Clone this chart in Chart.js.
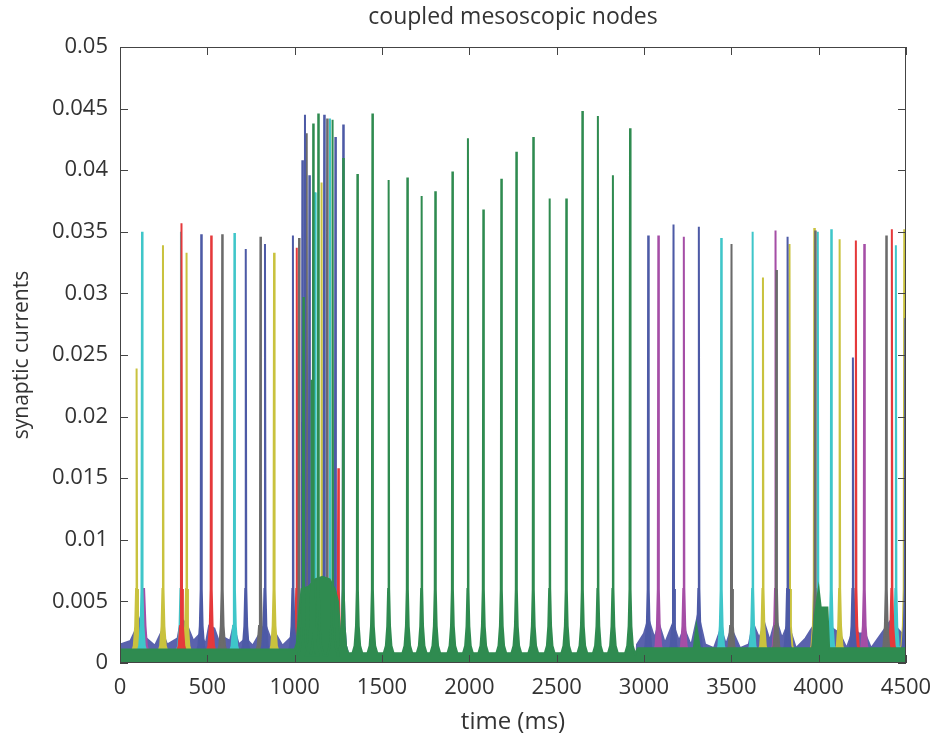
<!DOCTYPE html>
<html lang="en">
<head>
<meta charset="utf-8">
<title>coupled mesoscopic nodes</title>
<style>
  html, body { margin: 0; padding: 0; background: #fff; }
  #wrap { width: 932px; height: 737px; }
</style>
</head>
<body>
<div id="wrap"><canvas id="chart"></canvas></div>
<script src="https://cdn.jsdelivr.net/npm/chart.js@4/dist/chart.umd.min.js"></script>
<script>
// spike times (ms) and peak currents, one pair per node colour
var blueT = [465, 720, 830, 990, 1044, 1059, 1084, 1169, 1233, 1278, 3024, 3169, 3314, 3822, 4196, 4496];
var blueP = [0.0348, 0.0336, 0.0340, 0.0347, 0.0408, 0.0445, 0.0396, 0.0445, 0.0427, 0.0437, 0.0347, 0.0356, 0.0354, 0.0346, 0.0248, 0.0280];

var greyT = [585, 804, 1025, 1069, 1186, 3501, 3758, 3980, 4387];
var greyP = [0.0348, 0.0346, 0.0345, 0.0430, 0.0442, 0.0340, 0.0319, 0.0351, 0.0347];

var cyanT = [126, 349, 655, 1117, 1202, 3442, 3622, 3995, 4072, 4442];
var cyanP = [0.0350, 0.0350, 0.0349, 0.0382, 0.0442, 0.0345, 0.0350, 0.0350, 0.0352, 0.0339];

var redT = [352, 522, 1012, 1059, 1250, 4213, 4419];
var redP = [0.0357, 0.0347, 0.0337, 0.0390, 0.0158, 0.0343, 0.0352];

var yellowT = [95, 246, 381, 882, 1154, 3681, 3833, 3975, 4120, 4490];
var yellowP = [0.0239, 0.0339, 0.0333, 0.0333, 0.0390, 0.0313, 0.0340, 0.0353, 0.0344, 0.0352];

var magentaT = [138, 3082, 3228, 3753, 4261];
var magentaP = [0.0060, 0.0347, 0.0346, 0.0351, 0.0340];

var greenT = [1050, 1097, 1106, 1135, 1217, 1278, 1359, 1445, 1538, 1645, 1727, 1805, 1903, 1992,
              2080, 2183, 2269, 2366, 2460, 2555, 2647, 2736, 2822, 2920];
var greenP = [0.0297, 0.0230, 0.0438, 0.0446, 0.0441, 0.0410, 0.0397, 0.0446, 0.0392, 0.0394, 0.0379, 0.0383, 0.0399, 0.0426,
              0.0368, 0.0393, 0.0415, 0.0427, 0.0377, 0.0377, 0.0448, 0.0444, 0.0396, 0.0434];

// green floor of the traces (incl. the dense burst 1000-1270 ms)
var floorT = [0, 1000, 1012, 1028, 1040, 1080, 1120, 1160, 1200, 1230, 1248, 1258, 1266, 2950, 2965, 3285, 3300, 3320, 3965, 3980, 4000, 4012, 4050, 4060, 4500];
var floorV = [0.0011, 0.0011, 0.0016, 0.0045, 0.0060, 0.0062, 0.0068, 0.0070, 0.0068, 0.0060, 0.0050, 0.0030, 0.0008, 0.0008, 0.0012, 0.0012, 0.0030, 0.0012, 0.0012, 0.0040, 0.0060, 0.0045, 0.0045, 0.0012, 0.0012];

// envelope of the mixed-colour noise in the asynchronous stretches
var noiseT = [0, 60, 100, 125, 150, 200, 240, 270, 330, 350, 380, 420, 460, 490, 510, 540, 570, 590, 630, 650, 680, 720, 760, 800, 830, 870, 890, 930, 980, 995, 1000,
              2955, 2960, 3000, 3025, 3060, 3085, 3120, 3165, 3200, 3230, 3270, 3310, 3350, 3400, 3440, 3470, 3500, 3550, 3600, 3625, 3660, 3690, 3720, 3755, 3790, 3825,
              3870, 3925, 3960, 4000, 4060, 4080, 4120, 4160, 4200, 4230, 4265, 4300, 4380, 4420, 4450, 4500];
var noiseV = [0.0015, 0.0018, 0.0030, 0.0040, 0.0020, 0.0014, 0.0026, 0.0015, 0.0020, 0.0036, 0.0032, 0.0018, 0.0024, 0.0015, 0.0030, 0.0028, 0.0016, 0.0021, 0.0018, 0.0030, 0.0015, 0.0020, 0.0014, 0.0024, 0.0032, 0.0017, 0.0024, 0.0014, 0.0021, 0.0028, 0,
              0, 0.0015, 0.0024, 0.0036, 0.0020, 0.0032, 0.0016, 0.0032, 0.0018, 0.0028, 0.0014, 0.0040, 0.0015, 0.0012, 0.0028, 0.0015, 0.0028, 0.0012, 0.0015, 0.0032, 0.0020, 0.0032, 0.0018, 0.0036, 0.0020, 0.0032,
              0.0012, 0.0020, 0.0028, 0.0036, 0.0032, 0.0028, 0.0024, 0.0012, 0.0028, 0.0024, 0.0024, 0.0012, 0.0028, 0.0036, 0.0028, 0.0020];

var xMin = 0, xMax = 4500, xStep = 500;
var yMin = 0, yMax = 0.05, yStep = 0.005;

// shape of one spike around its peak (ms offsets / floor levels)
var skirtDx = [-32, -16, -8, -3, 0, 3, 8, 16, 32];
var skirtY = [0.0006, 0.0014, 0.003, 0.006, null, 0.006, 0.003, 0.0014, 0.0006];

function spikes(times, peaks) {
    var pts = [];
    for (var i = 0; i < times.length; i++) {
        for (var k = 0; k < skirtDx.length; k++) {
            var y = skirtY[k] === null ? peaks[i] : Math.min(skirtY[k], peaks[i]);
            pts.push({ x: times[i] + skirtDx[k], y: y });
        }
    }
    return pts;
}

function pairs(xs, ys) {
    return xs.map(function(x, i) { return { x: x, y: ys[i] }; });
}

function trace(data, color, order) {
    return {
        data: data,
        borderColor: color,
        backgroundColor: color,
        borderWidth: 2,
        pointRadius: 0,
        tension: 0,
        fill: 'origin',
        order: order
    };
}

var FONT = '"Open Sans", sans-serif';
var INK = '#333';

// MATLAB-style box with inward ticks on all four sides
var boxPlugin = {
    id: 'box',
    afterDatasetsDraw: function(chart) {
        var a = chart.chartArea, ctx = chart.ctx;
        var xs = chart.scales.x, ys = chart.scales.y;
        ctx.save();
        ctx.strokeStyle = '#444';
        ctx.lineWidth = 1;
        ctx.strokeRect(a.left + 0.5, a.top + 0.5, a.right - a.left - 1, a.bottom - a.top - 1);
        ctx.beginPath();
        xs.ticks.forEach(function(t) {
            var p = Math.round(xs.getPixelForValue(t.value)) + 0.5;
            ctx.moveTo(p, a.bottom); ctx.lineTo(p, a.bottom - 8);
            ctx.moveTo(p, a.top); ctx.lineTo(p, a.top + 8);
        });
        ys.ticks.forEach(function(t) {
            var p = Math.round(ys.getPixelForValue(t.value)) + 0.5;
            ctx.moveTo(a.left, p); ctx.lineTo(a.left + 8, p);
            ctx.moveTo(a.right, p); ctx.lineTo(a.right - 8, p);
        });
        ctx.stroke();
        ctx.restore();
    }
};

var ctx = document.getElementById('chart');
var chart = new Chart(ctx, {
    type: 'line',
    data: {
        datasets: [
            trace(spikes(greenT, greenP), '#2f8b50', 0),
            trace(pairs(floorT, floorV), '#2f8b50', 1),
            trace(spikes(blueT, blueP), '#4d5aa6', 2),
            trace(spikes(greyT, greyP), '#6b6b6b', 3),
            trace(spikes(redT, redP), '#e5393b', 4),
            trace(spikes(cyanT, cyanP), '#3fc6c9', 5),
            trace(spikes(yellowT, yellowP), '#c9c23e', 6),
            trace(spikes(magentaT, magentaP), '#a54ea6', 7),
            trace(pairs(noiseT, noiseV), '#5a62ad', 8)
        ]
    },
    options: {
        responsive: true,
        maintainAspectRatio: false,
        animation: false,
        layout: { padding: { left: 0, right: 0, top: 0, bottom: 0 } },
        plugins: {
            legend: { display: false },
            tooltip: { enabled: false }
        },
        scales: {
            x: {
                type: 'linear',
                min: xMin, max: xMax,
                grid: { display: false, drawTicks: false },
                border: { display: false },
                ticks: {
                    stepSize: xStep,
                    padding: 12,
                    color: INK,
                    font: { family: FONT, size: 22 },
                    maxRotation: 0,
                    callback: function(v) { return String(v); }
                },
                title: {
                    display: true,
                    text: 'time (ms)',
                    color: INK,
                    font: { family: FONT, size: 24 },
                    padding: { top: 4, bottom: 0 }
                },
                afterFit: function(s) {
                    s.height = 74;
                    s.paddingLeft = 0;
                    s.paddingRight = 26;
                }
            },
            // top axis only carries the plot title, centred over the plot box
            top: {
                type: 'linear',
                position: 'top',
                min: xMin, max: xMax,
                grid: { display: false, drawTicks: false },
                border: { display: false },
                ticks: { display: false },
                title: {
                    display: true,
                    text: 'coupled mesoscopic nodes',
                    color: INK,
                    font: { family: FONT, size: 23 },
                    padding: { top: 4, bottom: 0 }
                },
                afterFit: function(s) {
                    s.height = 47;
                    s.paddingLeft = 0;
                    s.paddingRight = 0;
                }
            },
            y: {
                min: yMin, max: yMax,
                grid: { display: false, drawTicks: false },
                border: { display: false },
                ticks: {
                    stepSize: yStep,
                    padding: 12,
                    color: INK,
                    font: { family: FONT, size: 22 },
                    callback: function(v) { return String(parseFloat(v.toFixed(3))); }
                },
                title: {
                    display: true,
                    text: 'synaptic currents',
                    color: INK,
                    font: { family: FONT, size: 21 },
                    padding: { top: 9, bottom: 0 }
                },
                afterFit: function(s) { s.width = 120; }
            }
        }
    },
    plugins: [boxPlugin]
});
</script>
</body>
</html>
